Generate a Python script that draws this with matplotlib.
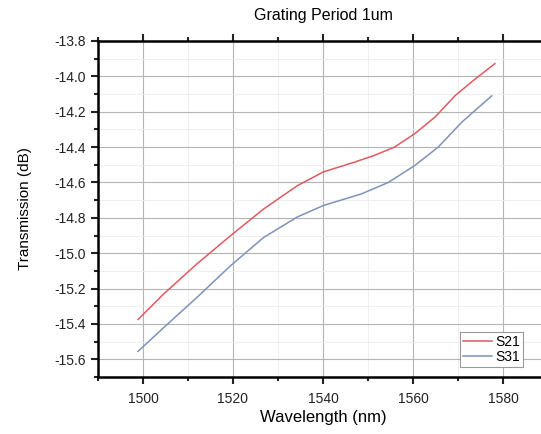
import matplotlib
matplotlib.use("Agg")
import matplotlib.pyplot as plt
from matplotlib.ticker import MultipleLocator, FormatStrFormatter

# values
wl_s21 = [1498.9, 1504.5, 1511.9, 1519.4, 1526.8, 1534.3, 1540.1, 1547.0, 1551.4, 1555.9,
          1560.4, 1564.9, 1569.4, 1573.9, 1578.2]
s21 = [-15.375, -15.233, -15.062, -14.902, -14.750, -14.618, -14.540, -14.485, -14.447, -14.400,
       -14.324, -14.230, -14.108, -14.013, -13.928]

wl_s31 = [1498.9, 1504.5, 1511.9, 1519.4, 1526.8, 1534.3, 1540.1, 1548.5, 1554.5, 1560.4,
          1565.6, 1570.8, 1577.5]
s31 = [-15.555, -15.423, -15.252, -15.072, -14.911, -14.795, -14.730, -14.665, -14.600, -14.504,
       -14.400, -14.260, -14.110]

plt.rcParams['font.family'] = ['Liberation Sans', 'DejaVu Sans']

fig = plt.figure(figsize=(5.41, 4.34), dpi=100)
ax = fig.add_axes([98 / 541, 1 - 377 / 434, 450 / 541, 336 / 434])

ax.plot(wl_s21, s21, color='#e05a5f', lw=1.1, label='S21', solid_joinstyle='round')
ax.plot(wl_s31, s31, color='#7d93ba', lw=1.1, label='S31', solid_joinstyle='round')

ax.set_xlim(1490, 1590)
ax.set_ylim(-15.7, -13.8)
ax.xaxis.set_major_locator(MultipleLocator(20))
ax.xaxis.set_minor_locator(MultipleLocator(10))
ax.yaxis.set_major_locator(MultipleLocator(0.2))
ax.yaxis.set_minor_locator(MultipleLocator(0.1))
ax.yaxis.set_major_formatter(FormatStrFormatter('%.1f'))

ax.grid(which='major', color='#b4b4b4', lw=0.8)
ax.grid(which='minor', color='#ececec', lw=0.6)
ax.set_axisbelow(True)

for s in ['left', 'top', 'bottom']:
    ax.spines[s].set_linewidth(1.8)
ax.spines['right'].set_visible(False)

ax.tick_params(which='both', direction='out', top=True, width=1.5, labelsize=10, colors='#222222')
ax.tick_params(which='major', length=5)
ax.tick_params(which='minor', length=3)
ax.tick_params(axis='x', pad=6)
ax.tick_params(axis='y', which='both', right=True, labelright=False)

ax.set_xlabel('Wavelength (nm)', fontsize=12, labelpad=3)
ax.set_ylabel('Transmission (dB)', fontsize=11, labelpad=16)
ax.set_title('Grating Period 1um', fontsize=11.5, pad=15)

leg = ax.legend(loc='lower right', bbox_to_anchor=(0.944, 0.03), borderaxespad=0, fontsize=10,
                fancybox=False, framealpha=1, edgecolor='#999999', handlelength=2.1, borderpad=0.2,
                labelspacing=0.1, handletextpad=0.25)
leg.get_frame().set_linewidth(0.8)

fig.savefig('out.png', dpi=100)
